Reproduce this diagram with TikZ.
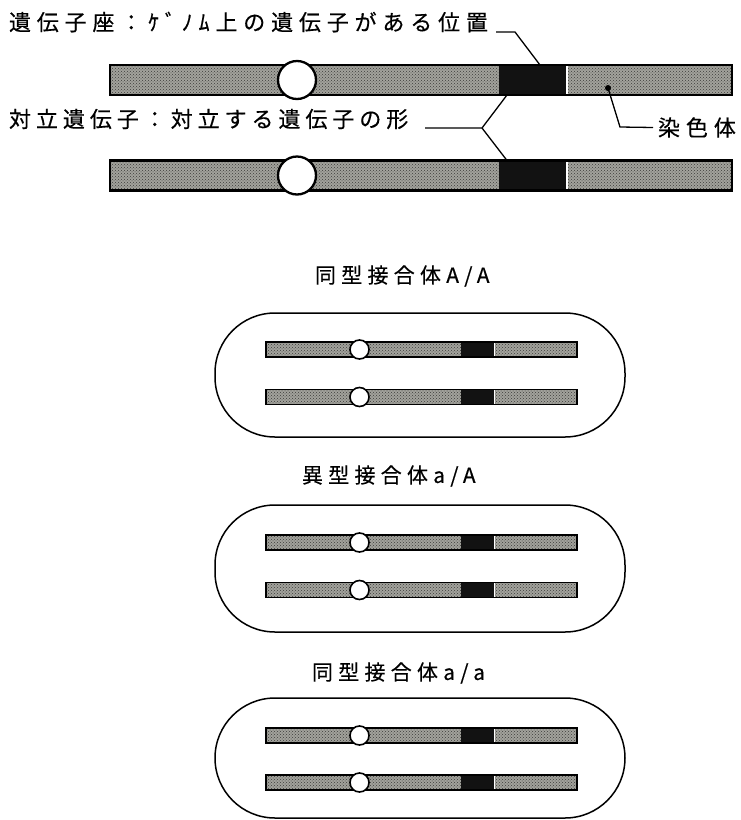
\documentclass[tikz,border=0pt]{standalone}
\usepackage{fontspec}
\setmainfont{Noto Sans CJK JP}[LetterSpace=20]
\newfontfamily\locfont{Noto Sans CJK JP}[LetterSpace=26.5, FakeBold=0.4]
\newfontfamily\allfont{Noto Sans CJK JP}[LetterSpace=22.5, FakeBold=0.4]
\newfontfamily\chrfont{Noto Sans CJK JP}[LetterSpace=27, FakeBold=0.4]
\newfontfamily\titfont{Noto Sans CJK JP}[LetterSpace=25, FakeBold=0.4]
\usetikzlibrary{calc,patterns}

\definecolor{chromgray}{RGB}{162,162,156}
\definecolor{speck}{RGB}{60,60,58}
\definecolor{locusblack}{RGB}{18,18,18}

\tikzset{
  chromline/.style={draw=black},
  chromfill/.style={fill=chromgray},
  chromgrain/.style={pattern=crosshatch dots, pattern color=speck},
  lochalf/.style={fill=locusblack, inner sep=0pt, outer sep=0pt, draw=none, rectangle},
  centro/.style={circle, fill=white, draw=black, inner sep=0pt, outer sep=0pt},
  capsule/.style={draw=black, line width=1.5pt, rounded corners=60pt, inner sep=0pt,
    minimum width=410pt},
  label/.style={inner sep=0pt, outer sep=0pt},
  title/.style={inner sep=0pt, outer sep=0pt, font=\titfont\fontsize{21}{25}\selectfont, anchor=west},
  leader/.style={draw=black, line width=1.3pt},
  chromdot/.style={circle, fill=black, inner sep=0pt, minimum size=6pt},
}

% one chromosome: #1 name, #2 left x, #3 centre y, #4 scale
\newcommand\chromosome[4]{%
  \begin{scope}[shift={(#2,#3)}, scale=#4]
    \fill[chromfill] (0,-15) rectangle (622,15);
    \fill[chromgrain] (0,-15) rectangle (622,15);
    \node[lochalf, transform shape, minimum width=68pt, minimum height=30pt] (#1-loc) at (423,0) {};
    \draw[white, line width={1.2*#4 pt}] (457,-14) -- (457,14);
    \draw[chromline, line width={(1+1.6*#4)*1pt}] (0,-15) rectangle (622,15);
    \node[centro, transform shape, line width={(0.9+1.4*#4)*1pt}, minimum size=38pt] (#1-cen) at (187,0) {};
  \end{scope}%
}

\begin{document}
\begin{tikzpicture}[x=1pt, y=-1pt]
  \useasboundingbox[fill=white] (0,0) rectangle (741,820);

  % the two large homologous chromosomes
  \chromosome{ca}{110}{80}{1}
  \chromosome{cb}{110}{175.5}{1}

  % labels of the upper part
  \node[label, anchor=west, font=\locfont\fontsize{22}{26}\selectfont] (loclab) at (9,22) {遺伝子座：ｹﾞﾉﾑ上の遺伝子がある位置};
  \node[label, anchor=west, font=\allfont\fontsize{22}{26}\selectfont] (alllab) at (9,119) {対立遺伝子：対立する遺伝子の形};
  \node[label, anchor=west, font=\chrfont\fontsize{22}{26}\selectfont] (chrlab) at (658,127.5) {染色体};

  % leader to the locus
  \coordinate (l1) at (496,32);
  \coordinate (l2) at (515,32);
  \draw[leader] (l1) -- (l2) -- ([xshift=7pt]ca-loc.north);

  % forked leader to the two alleles
  \coordinate (a1) at (425,128);
  \coordinate (a2) at (482,128);
  \draw[leader] (a1) -- (a2) -- ([xshift=8pt]ca-loc.south west);
  \draw[leader] (a2) -- ([xshift=8pt]cb-loc.north west);

  % leader to the chromosome body
  \node[chromdot] (cdot) at (608,88) {};
  \coordinate (cbend) at (620,127);
  \draw[leader] (cdot.center) -- (cbend) -- ([xshift=-5pt]chrlab.west);

  % homozygote A/A
  \node[title] (t1) at (315,276) {同型接合体A/A};
  \node[capsule, minimum height=124pt] (p1) at (420,375) {};
  \chromosome{p1a}{266}{349.5}{0.5}
  \chromosome{p1b}{266}{397}{0.5}

  % heterozygote a/A
  \node[title] (t2) at (302,476) {異型接合体a/A};
  \node[capsule, minimum height=127pt] (p2) at (420,568.5) {};
  \chromosome{p2a}{266}{542.5}{0.5}
  \chromosome{p2b}{266}{590}{0.5}

  % homozygote a/a
  \node[title] (t3) at (312,673) {同型接合体a/a};
  \node[capsule, minimum height=120pt] (p3) at (420,758) {};
  \chromosome{p3a}{266}{735.5}{0.5}
  \chromosome{p3b}{266}{782.5}{0.5}
\end{tikzpicture}
\end{document}
